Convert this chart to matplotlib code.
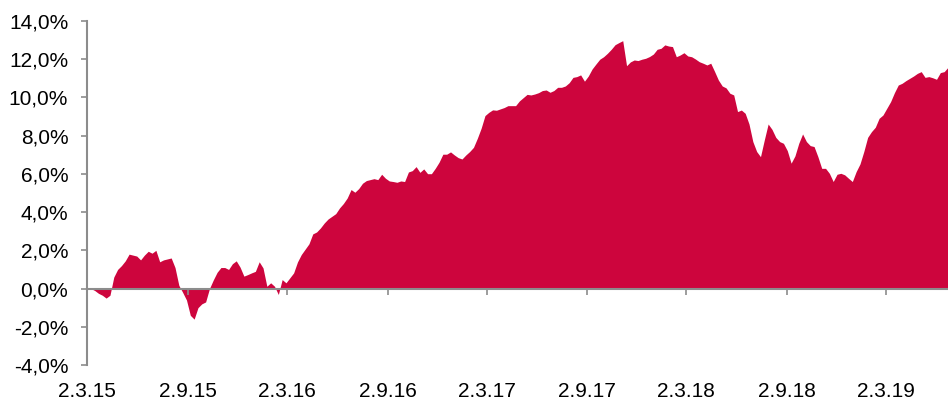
import matplotlib
matplotlib.use('Agg')
from matplotlib import pyplot as plt
import matplotlib.ticker as mticker
import numpy as np
import pandas as pd

# weekly cumulative return in %, starting 2.3.2015
start = '2015-03-02'
returns = [
    0.0, 0.0, -0.1, -0.25, -0.35, -0.5, -0.35, 0.6, 1.0, 1.2,
    1.45, 1.8, 1.75, 1.7, 1.5, 1.75, 1.95, 1.85, 2.0, 1.4,
    1.5, 1.55, 1.6, 1.1, 0.17, -0.2, -0.6, -1.4, -1.6, -1.0,
    -0.8, -0.7, 0.0, 0.45, 0.85, 1.1, 1.1, 1.0, 1.3, 1.45,
    1.12, 0.65, 0.73, 0.82, 0.9, 1.4, 1.08, 0.12, 0.3, 0.12,
    -0.31, 0.47, 0.3, 0.56, 0.82, 1.39, 1.78, 2.06, 2.34, 2.86,
    2.96, 3.17, 3.43, 3.64, 3.78, 3.92, 4.22, 4.45, 4.74, 5.18,
    5.04, 5.23, 5.51, 5.65, 5.7, 5.75, 5.7, 5.98, 5.77, 5.63,
    5.6, 5.56, 5.63, 5.6, 6.1, 6.17, 6.38, 6.08, 6.26, 6.01,
    6.01, 6.29, 6.61, 7.03, 7.03, 7.15, 6.99, 6.85, 6.78, 6.99,
    7.17, 7.39, 7.86, 8.39, 9.05, 9.22, 9.35, 9.33, 9.4, 9.47,
    9.57, 9.57, 9.57, 9.82, 9.99, 10.16, 10.13, 10.18, 10.25, 10.36,
    10.39, 10.27, 10.36, 10.53, 10.53, 10.6, 10.77, 11.05, 11.09, 11.18,
    10.85, 11.12, 11.49, 11.75, 12.0, 12.13, 12.31, 12.52, 12.76, 12.87,
    12.97, 11.66, 11.86, 11.96, 11.93, 12.0, 12.05, 12.14, 12.27, 12.52,
    12.57, 12.75, 12.69, 12.66, 12.13, 12.22, 12.34, 12.17, 12.13, 12.01,
    11.87, 11.79, 11.7, 11.79, 11.36, 10.91, 10.6, 10.5, 10.22, 10.13,
    9.26, 9.34, 9.17, 8.61, 7.69, 7.17, 6.9, 7.78, 8.61, 8.33,
    7.91, 7.69, 7.6, 7.22, 6.56, 6.94, 7.6, 8.09, 7.69, 7.48,
    7.43, 6.9, 6.29, 6.29, 6.03, 5.6, 5.98, 6.03, 5.95, 5.77,
    5.6, 6.12, 6.52, 7.17, 7.91, 8.21, 8.44, 8.91, 9.08, 9.43,
    9.78, 10.25, 10.65, 10.74, 10.88, 11.0, 11.12, 11.26, 11.35, 11.05,
    11.09, 11.03, 10.95, 11.3, 11.35, 11.58,
]

tick_dates = ['2015-03-02', '2015-09-02', '2016-03-02', '2016-09-02', '2017-03-02',
              '2017-09-02', '2018-03-02', '2018-09-02', '2019-03-02']
tick_labels = ['2.3.15', '2.9.15', '2.3.16', '2.9.16', '2.3.17',
               '2.9.17', '2.3.18', '2.9.18', '2.3.19']

plt.rcParams['font.family'] = ['Liberation Sans', 'DejaVu Sans']

red = '#CD053D'
grey = '#8C8C8C'

dates = pd.date_range(start, periods=len(returns), freq='7D')

fig = plt.figure(figsize=(9.48, 4.01), dpi=100)
ax = fig.add_axes([87 / 948, 36 / 401, 861 / 948, 344 / 401])

ax.fill_between(dates, returns, 0, color=red, linewidth=0)

ax.set_xlim(dates[0], dates[-1])
ax.set_ylim(-4, 14)
ax.set_yticks(np.arange(-4, 15, 2))
ax.yaxis.set_major_formatter(mticker.FuncFormatter(lambda v, p: f'{v:.1f}%'.replace('.', ',')))
ax.set_xticks(pd.to_datetime(tick_dates))
ax.set_xticklabels(tick_labels)

for s in ['top', 'right']:
    ax.spines[s].set_visible(False)
ax.spines['bottom'].set_position(('data', 0))
for s in ['left', 'bottom']:
    ax.spines[s].set_color(grey)
    ax.spines[s].set_linewidth(1.5)

ax.tick_params(axis='y', length=4.5, width=1.2, color=grey, pad=9, labelsize=15)
ax.tick_params(axis='x', length=4.5, width=1.2, color=grey, pad=63, labelsize=15)

plt.savefig('out.png', dpi=100)
